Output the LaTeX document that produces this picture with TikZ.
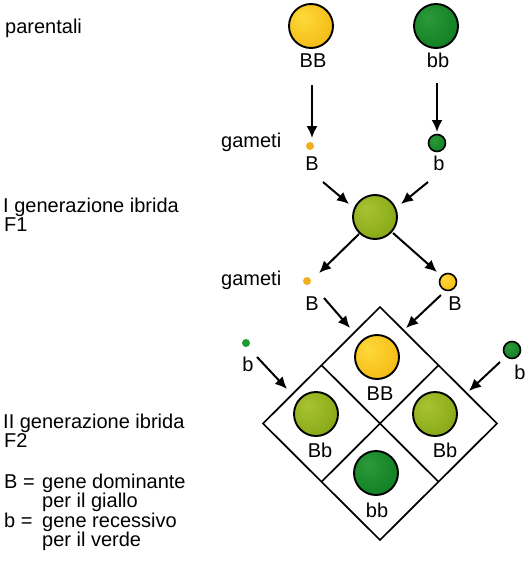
\documentclass[tikz,border=0pt]{standalone}
\usepackage{fontspec}
\setmainfont{Liberation Sans}
\usetikzlibrary{arrows.meta,calc}
\definecolor{ylight}{HTML}{FDDA3A}
\definecolor{ybase}{HTML}{F7C11C}
\definecolor{ydark}{HTML}{E89F10}
\definecolor{glight}{HTML}{2C9A3A}
\definecolor{gbase}{HTML}{168528}
\definecolor{gdark}{HTML}{08621A}
\definecolor{olight}{HTML}{A9C232}
\definecolor{obase}{HTML}{8FAE1C}
\definecolor{odark}{HTML}{6A880A}
\definecolor{ydot}{HTML}{F0B020}
\definecolor{gdot}{HTML}{1E9A34}
\pgfdeclareradialshading{sphY}{\pgfpoint{-10bp}{10bp}}{color(0bp)=(ylight); color(26bp)=(ybase); color(55bp)=(ydark); color(70bp)=(ydark)}
\pgfdeclareradialshading{sphG}{\pgfpoint{-10bp}{10bp}}{color(0bp)=(glight); color(26bp)=(gbase); color(55bp)=(gdark); color(70bp)=(gdark)}
\pgfdeclareradialshading{sphO}{\pgfpoint{-10bp}{10bp}}{color(0bp)=(olight); color(26bp)=(obase); color(55bp)=(odark); color(70bp)=(odark)}
\begin{document}
\begin{tikzpicture}[x=1pt,y=-1pt,
  txt/.style={font=\fontsize{20}{20}\selectfont, inner sep=0pt, anchor=base},
  ltxt/.style={txt, anchor=base west},
  ball/.style={circle, draw=black, line width=1.9pt, minimum size=44pt, inner sep=0pt, shade, shading=#1},
  sball/.style={circle, draw=black, line width=1.6pt, minimum size=17pt, inner sep=0pt, shade, shading=#1},
  dotn/.style={circle, fill=#1, minimum size=8pt, inner sep=0pt},
  arr/.style={line width=2pt, -{Latex[length=12pt,width=11pt]}},
  grid/.style={line width=1.7pt, line join=miter}]
\useasboundingbox (0,0) rectangle (531,562);
\fill[white] (0,0) rectangle (531,562);

% left texts
\node[ltxt] (tpar) at (5,33) {parentali};
\node[ltxt] (tg1) at (3,212) {I generazione ibrida};
\node[ltxt] (tf1) at (4,231) {F1};
\node[ltxt] (tg2) at (3,428) {II generazione ibrida};
\node[ltxt] (tf2) at (4,447.5) {F2};
\node[ltxt] (lB) at (4,488) {B =};
\node[ltxt] (lBt) at (42,488) {gene dominante};
\node[ltxt] (lBt2) at (42,507) {per il giallo};
\node[ltxt] (lb) at (4,527) {b =};
\node[ltxt] (lbt) at (42,527) {gene recessivo};
\node[ltxt] (lbt2) at (42,546) {per il verde};

% parents
\node[ball=sphY] (p1) at (311,26) {};
\node[ball=sphG] (p2) at (436,26) {};
\node[txt] (p1l) at (313,67) {BB};
\node[txt] (p2l) at (438,67) {bb};

% gametes of parents
\node[ltxt] (gam1) at (221,147) {gameti};
\node[dotn=ydot] (g1) at (310,146) {};
\node[sball=sphG] (g2) at (437,143) {};
\node[txt] (g1l) at (312,170) {B};
\node[txt] (g2l) at (439,170) {b};

\coordinate (a1s) at (312,85); \coordinate (a1e) at (312,138);
\coordinate (a2s) at (437,83); \coordinate (a2e) at (437,132);
\draw[arr] (a1s) -- (a1e);
\draw[arr] (a2s) -- (a2e);

% F1
\node[ball=sphO] (f1) at (375,217) {};
\coordinate (a3s) at (323,182); \coordinate (a3e) at (349,204);
\coordinate (a4s) at (428,182); \coordinate (a4e) at (401,204);
\draw[arr] (a3s) -- (a3e);
\draw[arr] (a4s) -- (a4e);

% F1 gametes
\node[ltxt] (gam2) at (221,285) {gameti};
\node[dotn=ydot] (g3) at (307,281) {};
\node[sball=sphY] (g4) at (448,282) {};
\node[txt] (g3l) at (312,310) {B};
\node[txt] (g4l) at (455,310) {B};
\coordinate (a5s) at (359,234); \coordinate (a5e) at (319,273);
\coordinate (a6s) at (393,233); \coordinate (a6e) at (437,272);
\draw[arr] (a5s) -- (a5e);
\draw[arr] (a6s) -- (a6e);

% Punnett diamond
\coordinate (dt) at (380,307);
\coordinate (dr) at (497,423.5);
\coordinate (db) at (380,540);
\coordinate (dl) at (263,423.5);
\draw[grid] (dt) -- (dr) -- (db) -- (dl) -- cycle;
\draw[grid] ($(dt)!0.5!(dl)$) -- ($(dr)!0.5!(db)$);
\draw[grid] ($(dt)!0.5!(dr)$) -- ($(dl)!0.5!(db)$);

\coordinate (a7s) at (324,298); \coordinate (a7e) at (350,328);
\coordinate (a8s) at (441,295); \coordinate (a8e) at (406,328);
\draw[arr] (a7s) -- (a7e);
\draw[arr] (a8s) -- (a8e);

% side gametes
\node[dotn=gdot] (g5) at (246,343) {};
\node[txt] (g5l) at (248,371) {b};
\node[sball=sphG] (g6) at (512,350) {};
\node[txt] (g6l) at (520,379) {b};
\coordinate (a9s) at (257,357); \coordinate (a9e) at (287,389);
\coordinate (a10s) at (500,362); \coordinate (a10e) at (469,391);
\draw[arr] (a9s) -- (a9e);
\draw[arr] (a10s) -- (a10e);

% F2 offspring
\node[ball=sphY] (c1) at (377,357) {};
\node[ball=sphO] (c2) at (316,414) {};
\node[ball=sphO] (c3) at (435,414) {};
\node[ball=sphG] (c4) at (376,473) {};
\node[txt] (c1l) at (380,400) {BB};
\node[txt] (c2l) at (320,457) {Bb};
\node[txt] (c3l) at (445,457) {Bb};
\node[txt] (c4l) at (377,517) {bb};
\end{tikzpicture}
\end{document}
